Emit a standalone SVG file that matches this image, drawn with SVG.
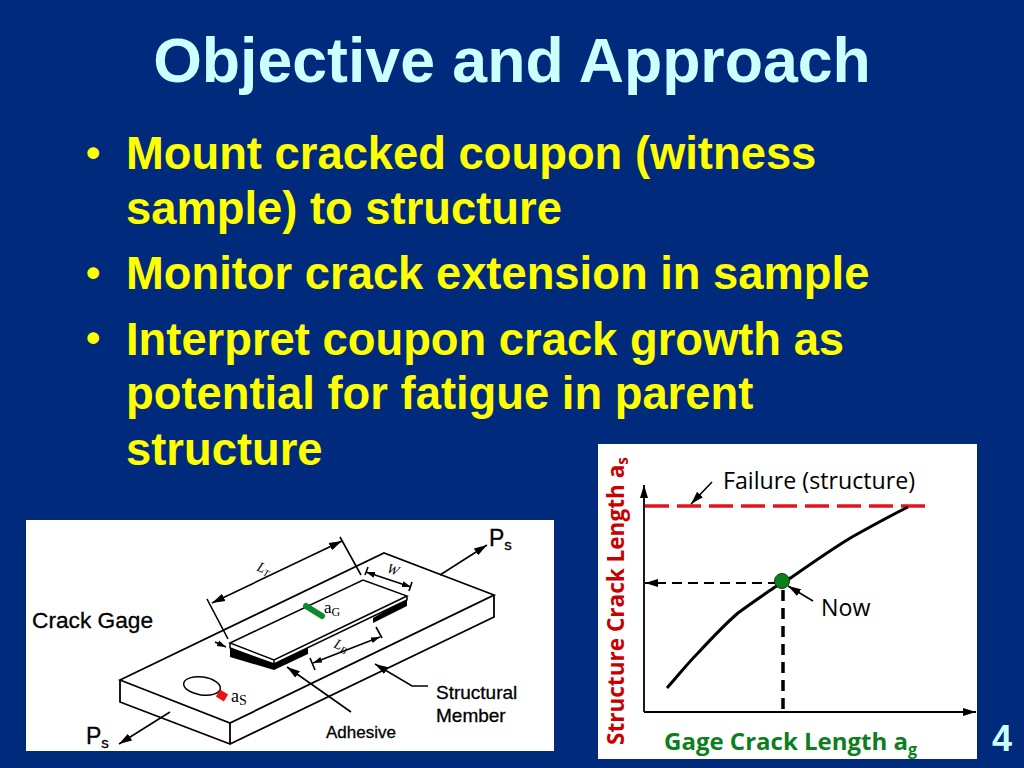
<svg xmlns="http://www.w3.org/2000/svg" width="1024" height="768" viewBox="0 0 1024 768">
<style>
text{font-family:"Liberation Sans",Arial,sans-serif}
.b{font-weight:bold;font-size:45.35px;fill:#ffff00}
.d{font-weight:bold;font-size:41px;fill:#ffff00}
.l{fill:#000;stroke:#000;stroke-width:.3}
.s{font-family:"Liberation Serif",serif;fill:#000}
.i{font-family:"Liberation Serif",serif;fill:#000;font-style:italic;font-size:14px}
.g{font-family:"Open Sans",sans-serif;fill:#000;font-size:23.2px}
.h{font-family:"Open Sans",sans-serif;font-weight:bold;font-size:24px}
.k{fill:none;stroke:#000;stroke-width:1.6}
.e{stroke:#000;stroke-width:1.8}
</style>
<defs>
<marker id="a" markerUnits="userSpaceOnUse" markerWidth="14" markerHeight="10" refX="13" refY="5" orient="auto-start-reverse"><path d="M0 1L13 5L0 9z" fill="#000"/></marker>
<marker id="m" markerUnits="userSpaceOnUse" markerWidth="10" markerHeight="8" refX="9" refY="4" orient="auto-start-reverse"><path d="M0 1L9 4L0 7z" fill="#000"/></marker>
</defs>
<rect width="1024" height="768" fill="#002a7c"/>
<text x="512" y="82" text-anchor="middle" font-size="62.6" font-weight="bold" fill="#ccffff">Objective and Approach</text>
<g id="bullets">
<text x="86" y="167" class="d">•</text>
<text x="126" y="169" class="b">Mount cracked coupon (witness</text>
<text x="126" y="224" class="b">sample) to structure</text>
<text x="86" y="287" class="d">•</text>
<text x="126" y="289" class="b">Monitor crack extension in sample</text>
<text x="86" y="352" class="d">•</text>
<text x="126" y="355" class="b">Interpret coupon crack growth as</text>
<text x="126" y="409" class="b">potential for fatigue in parent</text>
<text x="126" y="465" class="b">structure</text>
</g>
<g id="figure-left">
<rect x="26" y="520" width="528" height="231" fill="#fff"/>
<path class="e" fill="#fff" d="M120 680L384 553L494 595L230 723ZM120 680V702L230 744V723M230 744L494 617V595"/>
<path d="M230 648L274 663L308 648V654L274 670L230 657Z" fill="#000"/>
<path d="M373 618L407 598V606L373 623Z" fill="#000"/>
<path d="M230 643L363 580L407 596L274 660ZM230 643V648L274 664L407 600V596M274 660V664" fill="#fff" stroke="#000" stroke-width="1.5"/>
<path d="M306 606L322 616" stroke="#0a8a2a" stroke-width="6" stroke-linecap="round"/>
<ellipse cx="202" cy="686" rx="18.500" ry="9" transform="rotate(8 202 686)" fill="#fff" stroke="#000" stroke-width="1.500"/>
<path d="M218 693L226 698" stroke="#f01010" stroke-width="8"/>
<g class="k">
<path d="M207 599L228 639M340 537L361 575"/>
<path d="M212 603L342 541" marker-start="url(#a)" marker-end="url(#a)"/>
<path d="M215 642L226 647" marker-end="url(#m)"/>
<path d="M366 572L411 587" marker-start="url(#m)" marker-end="url(#m)"/>
<path d="M368 567L365 575M412 582L409 591"/>
<path d="M313 663L380 637" marker-start="url(#m)" marker-end="url(#m)"/>
<path d="M310 658L315 670M376 627L382 638"/>
<path d="M440 575L487 545" marker-end="url(#a)"/>
<path d="M170 712L119 744" marker-end="url(#a)"/>
<path d="M351 712L287 667" marker-end="url(#a)"/>
<path d="M428 686H412L375 664" marker-end="url(#a)"/>
</g>
<text x="32" y="628" class="l" font-size="22.700">Crack Gage</text>
<text x="489" y="546" class="l" font-size="23">P<tspan font-size="15" dy="4">s</tspan></text>
<text x="86" y="744" class="l" font-size="23">P<tspan font-size="15" dy="4">s</tspan></text>
<text x="326" y="738" class="l" font-size="17">Adhesive</text>
<text x="436" y="699" class="l" font-size="19">Structural</text>
<text x="436" y="722" class="l" font-size="19">Member</text>
<text x="231" y="702" class="s" font-size="18">a<tspan font-size="14" dy="3">S</tspan></text>
<text x="324" y="613" class="s" font-size="17">a<tspan font-size="12" dy="3">G</tspan></text>
<text class="i" transform="translate(256 570) rotate(24)">L<tspan font-size="10" dy="2">T</tspan></text>
<text class="i" transform="translate(386 572) rotate(20)">W</text>
<text class="i" transform="translate(333 647) rotate(24)">L<tspan font-size="10" dy="2">B</tspan></text>
</g>
<g id="figure-right">
<rect x="598" y="444" width="379" height="315" fill="#fff"/>
<path d="M644 712V485" class="e" fill="none" marker-end="url(#a)"/>
<path d="M644 712H976" class="e" fill="none" marker-end="url(#a)"/>
<path d="M645 506H926" stroke="#e8141c" stroke-width="3.500" stroke-dasharray="24 8" fill="none"/>
<path d="M667 688C677 677 687 664 698 653C711 639 724 625 738 613C750 604 762 596 775 587C780 584 786 581 792 577C812 563 832 549 852 537C870 527 890 516 908 507" fill="none" stroke="#000" stroke-width="3"/>
<path d="M778 583H645" fill="none" stroke="#000" stroke-width="2.200" stroke-dasharray="10 6" marker-end="url(#a)"/>
<path d="M783 590V712" fill="none" stroke="#000" stroke-width="3.500" stroke-dasharray="11 7"/>
<circle cx="782" cy="581" r="7.500" fill="#0b7f1c" stroke="#064010"/>
<path d="M712 482L691 504" class="k" marker-end="url(#a)"/>
<path d="M813 601L788 586" class="k" marker-end="url(#a)"/>
<text x="723" y="489" class="g">Failure (structure)</text>
<text x="821" y="616" class="g">Now</text>
<text x="664" y="750" class="h" fill="#0b7f1c">Gage Crack Length a<tspan font-size="16" dy="5">g</tspan></text>
<text class="h" fill="#c80000" transform="translate(624 745) rotate(-90) scale(.94 1)">Structure Crack Length a<tspan font-size="16" dy="4">s</tspan></text>
</g>
<text x="1002" y="751" text-anchor="middle" font-size="36" font-weight="bold" fill="#ccffff">4</text>
</svg>
